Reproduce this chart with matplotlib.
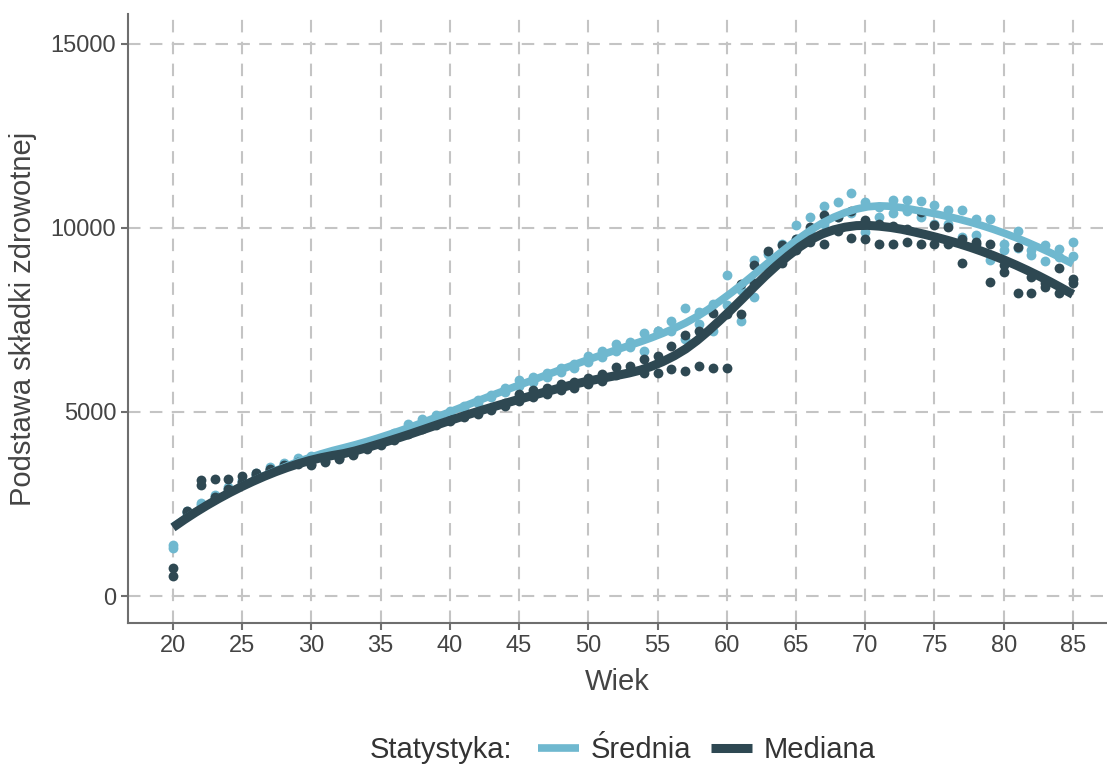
import matplotlib
matplotlib.use("Agg")
import matplotlib.pyplot as plt
import numpy as np

plt.rcParams['font.family'] = ['Liberation Sans', 'DejaVu Sans']

wiek = list(range(20, 86))

# Srednia - dwa punkty na kazdy wiek
sr_a = [1380, 2300, 2520, 2750, 2950, 3150, 3350, 3500, 3620, 3750,
        3800, 3870, 3950, 4050, 4150, 4270, 4420, 4670, 4810, 4920,
        5030, 5170, 5320, 5470, 5650, 5860, 5950, 6050, 6180, 6300,
        6510, 6650, 6840, 6890, 7130, 7210, 7460, 7810, 7700, 7920,
        8730, 8300, 9130, 9300, 9550, 10070, 10300, 10590, 10700, 10950,
        10700, 10570, 10760, 10760, 10730, 10620, 10480, 10480, 10250, 10250,
        9570, 9920, 9400, 9540, 9430, 9600]
sr_b = [1320, 2250, 2480, 2700, 2900, 3100, 3300, 3450, 3580, 3700,
        3780, 3850, 3920, 4020, 4120, 4230, 4370, 4550, 4700, 4850,
        4950, 5100, 5250, 5400, 5550, 5700, 5820, 5950, 6080, 6200,
        6350, 6500, 6650, 6750, 6650, 7190, 7200, 6970, 7400, 7190,
        7900, 7460, 8130, 8900, 9200, 9700, 9900, 10100, 10300, 10400,
        9890, 10300, 10400, 10450, 10300, 10100, 10100, 9760, 9800, 9130,
        9400, 9450, 9250, 9100, 9200, 9240]

# Mediana - dwa punkty na kazdy wiek
me_a = [760, 2320, 3160, 3190, 3190, 3270, 3350, 3460, 3560, 3640,
        3600, 3680, 3750, 3860, 4050, 4150, 4300, 4450, 4600, 4700,
        4800, 4900, 5000, 5120, 5250, 5490, 5590, 5650, 5750, 5800,
        5920, 6030, 6220, 6240, 6430, 6510, 6780, 7100, 7190, 7680,
        7650, 8460, 9000, 9380, 9540, 9700, 10030, 10350, 10300, 10460,
        10200, 10100, 10050, 9970, 10430, 10080, 10030, 9700, 9600, 9570,
        9000, 9490, 8650, 8490, 8900, 8620]
me_b = [540, 2280, 3030, 2700, 2900, 3100, 3300, 3420, 3520, 3600,
        3560, 3650, 3720, 3820, 4000, 4100, 4250, 4400, 4550, 4650,
        4750, 4850, 4950, 5050, 5150, 5300, 5400, 5500, 5600, 5650,
        5750, 5850, 6000, 6100, 6050, 6050, 6160, 6110, 6240, 6190,
        6190, 7650, 8500, 9000, 9030, 9400, 9600, 9570, 9900, 9730,
        9700, 9570, 9570, 9600, 9570, 9570, 9570, 9050, 9570, 8540,
        8800, 8240, 8240, 8400, 8240, 8490]

kolor_sr = '#6FB8CF'
kolor_me = '#2E4852'


def loess(x, y, xs, span=0.4):
    # lokalna regresja kwadratowa z wagami tricube
    x = np.asarray(x, float)
    y = np.asarray(y, float)
    q = int(np.ceil(span * len(x)))
    out = []
    for x0 in xs:
        d = np.abs(x - x0)
        h = np.sort(d)[q - 1] * 1.0001
        w = np.clip(1 - (d / h) ** 3, 0, None) ** 3
        X = np.column_stack([np.ones_like(x), x - x0, (x - x0) ** 2])
        W = np.sqrt(w)
        beta = np.linalg.lstsq(X * W[:, None], y * W, rcond=None)[0]
        out.append(beta[0])
    return np.array(out)


fig = plt.figure(figsize=(11.07, 7.67), dpi=100)
ax = fig.add_axes([0.1156, 0.1877, 0.8844, 0.794])

xx = np.linspace(20, 85, 80)
x2 = wiek + wiek

ax.scatter(wiek, sr_a, s=50, color=kolor_sr, lw=0, zorder=3)
ax.scatter(wiek, sr_b, s=50, color=kolor_sr, lw=0, zorder=3)
ax.scatter(wiek, me_a, s=50, color=kolor_me, lw=0, zorder=3)
ax.scatter(wiek, me_b, s=50, color=kolor_me, lw=0, zorder=3)

ax.plot(xx, loess(x2, sr_a + sr_b, xx), color=kolor_sr, lw=5.5,
        solid_capstyle='butt', zorder=4, label='Średnia')
ax.plot(xx, loess(x2, me_a + me_b, xx), color=kolor_me, lw=6.5,
        solid_capstyle='butt', zorder=5, label='Mediana')

ax.set_xlim(16.75, 87.46)
ax.set_ylim(-730, 15800)
ax.set_xticks(range(20, 86, 5))
ax.set_yticks([0, 5000, 10000, 15000])

ax.grid(True, color='#C4C4C4', lw=1.5, linestyle=(0, (6, 4.5)))
ax.set_axisbelow(True)
for s in ['top', 'right']:
    ax.spines[s].set_visible(False)
for s in ['left', 'bottom']:
    ax.spines[s].set_color('#6E6E6E')
    ax.spines[s].set_linewidth(1.5)
ax.tick_params(colors='#6E6E6E', width=1.5, length=5, labelsize=17,
               labelcolor='#444444')

ax.set_xlabel('Wiek', fontsize=21, color='#444444', labelpad=8)
ax.set_ylabel('Podstawa składki zdrowotnej', fontsize=21, color='#444444',
              labelpad=10)

fig.text(0.334, 0.022, 'Statystyka:', fontsize=21, color='#333333',
         va='center', ha='left')
fig.legend(loc='center left', bbox_to_anchor=(0.486, 0.022), ncol=2,
           frameon=False, fontsize=21, handlelength=1.4, handletextpad=0.4,
           columnspacing=0.7, borderaxespad=0, borderpad=0,
           labelcolor='#333333')

fig.savefig('out.png', dpi=100)
